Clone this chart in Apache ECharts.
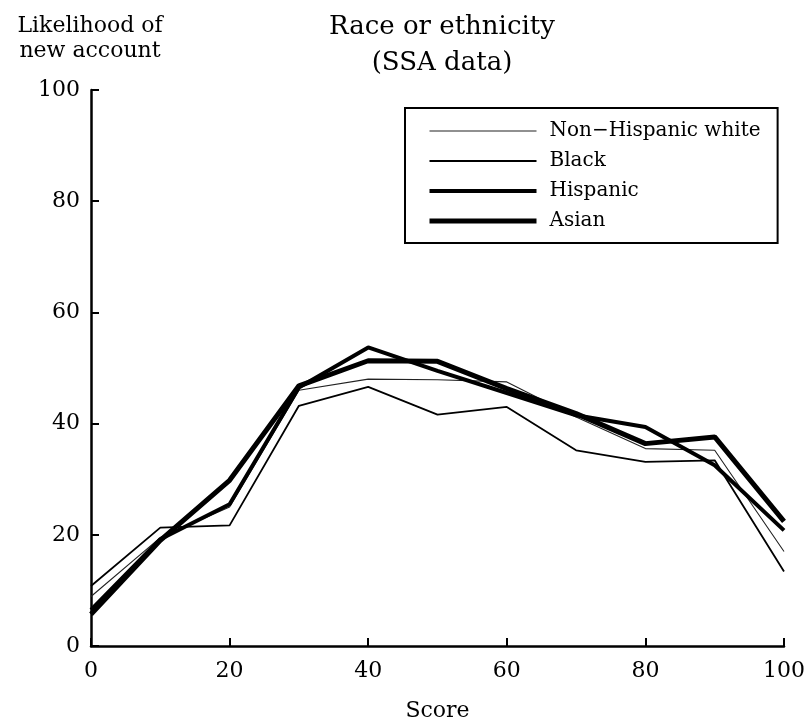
<!DOCTYPE html>
<html>
<head>
<meta charset="utf-8">
<script src="https://cdn.jsdelivr.net/npm/echarts@6/dist/echarts.min.js"></script>
<style>
  html, body { margin: 0; padding: 0; background: #fff; }
  #main { width: 811px; height: 727px; }
</style>
</head>
<body>
<div id="main"></div>
<script>
// scores along the x axis
var scores = [0, 10, 20, 30, 40, 50, 60, 70, 80, 90, 100];

// likelihood of new account
var nonHispanicWhite = [8.9, 19.5, 25.0, 46.0, 48.0, 47.9, 47.5, 41.2, 35.5, 35.2, 17.0];
var black = [10.8, 21.3, 21.7, 43.2, 46.6, 41.6, 43.0, 35.2, 33.1, 33.4, 13.4];
var hispanic = [6.5, 19.2, 25.5, 46.5, 53.7, 49.5, 45.5, 41.5, 39.4, 32.5, 20.8];
var asian = [5.7, 19.0, 29.8, 46.8, 51.3, 51.2, 46.3, 41.8, 36.4, 37.6, 22.4];

var serif = '"DejaVu Serif", "Liberation Serif", serif';

function pairs(vals) {
	var out = [];
	for (var i = 0; i < scores.length; i++) {
		out.push([scores[i], vals[i]]);
	}
	return out;
}

function lineSeries(name, vals, width, color) {
	return {
		name: name,
		type: 'line',
		data: pairs(vals),
		symbol: 'none',
		smooth: false,
		lineStyle: { width: width, color: color },
		itemStyle: { color: color },
		emphasis: { disabled: true },
		animation: false
	};
}

var myChart = echarts.init(document.getElementById('main'), null, { renderer: 'canvas' });
var option = {
	backgroundColor: '#fff',
	textStyle: { fontFamily: serif, color: '#000' },
	title: [{
		text: 'Race or ethnicity\n(SSA data)',
		left: 437,
		top: 4,
		textAlign: 'center',
		textStyle: { fontFamily: serif, fontSize: 26, fontWeight: 'normal', color: '#000', lineHeight: 36 }
	}, {
		text: 'Likelihood of\nnew account',
		left: 85,
		top: 9,
		textAlign: 'center',
		textStyle: { fontFamily: serif, fontSize: 22, fontWeight: 'normal', color: '#000', lineHeight: 25 }
	}],
	legend: {
		orient: 'vertical',
		left: 405,
		top: 108,
		padding: [13, 17, 12, 22],
		itemGap: 10,
		itemWidth: 107,
		itemHeight: 22,
		borderColor: '#000',
		borderWidth: 2,
		backgroundColor: '#fff',
		itemStyle: { opacity: 0 },
		lineStyle: { width: 'inherit' },
		textStyle: { fontFamily: serif, fontSize: 20, color: '#000', padding: [0, 0, 0, 8] },
		data: ['Non\u2212Hispanic white', 'Black', 'Hispanic', 'Asian']
	},
	grid: {
		left: 91,
		right: 27,
		top: 90,
		bottom: 79,
		containLabel: false
	},
	xAxis: {
		type: 'value',
		min: 0,
		max: 100,
		interval: 20,
		name: 'Score',
		nameLocation: 'middle',
		nameGap: 54,
		nameTextStyle: { fontFamily: serif, fontSize: 22, color: '#000' },
		axisLine: { show: true, lineStyle: { color: '#000', width: 2.5 } },
		axisTick: { show: true, inside: true, length: 8, lineStyle: { color: '#000', width: 2 } },
		axisLabel: { fontFamily: serif, fontSize: 22, color: '#000', margin: 14 },
		splitLine: { show: false }
	},
	yAxis: {
		type: 'value',
		min: 0,
		max: 100,
		interval: 20,
		axisLine: { show: true, lineStyle: { color: '#000', width: 2.5 } },
		axisTick: { show: true, inside: true, length: 8, lineStyle: { color: '#000', width: 2 } },
		axisLabel: { fontFamily: serif, fontSize: 22, color: '#000', margin: 11 },
		splitLine: { show: false }
	},
	series: [
		lineSeries('Non\u2212Hispanic white', nonHispanicWhite, 1.1, '#222'),
		lineSeries('Black', black, 1.8, '#000'),
		lineSeries('Hispanic', hispanic, 4, '#000'),
		lineSeries('Asian', asian, 5, '#000')
	]
};
myChart.setOption(option);
</script>
</body>
</html>
